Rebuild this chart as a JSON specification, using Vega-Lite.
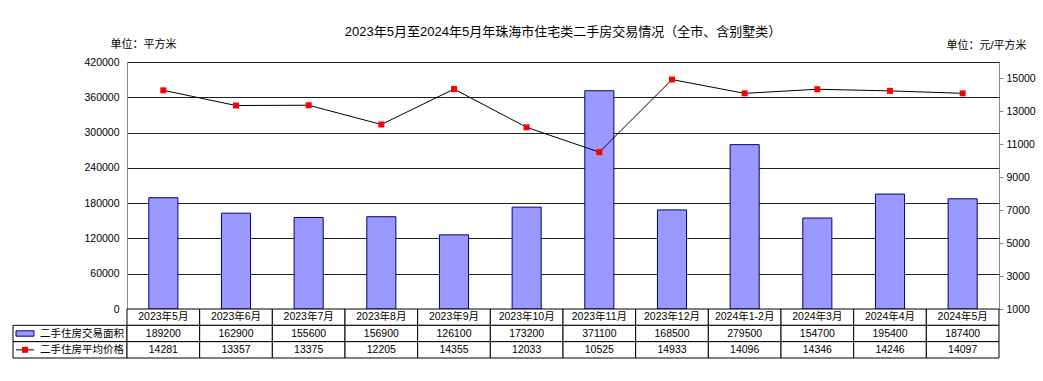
{
  "$schema": "https://vega.github.io/schema/vega-lite/v6.json",
  "padding": {"left": 12, "top": 25, "right": 5, "bottom": 5},
  "background": "white",
  "config": {
    "view": {"stroke": null},
    "font": "Liberation Sans, Noto Sans CJK SC",
    "axis": {"labelFont": "Liberation Sans, Noto Sans CJK SC", "titleFont": "Liberation Sans, Noto Sans CJK SC", "labelColor": "#000", "titleColor": "#000"},
    "title": {"font": "Liberation Sans, Noto Sans CJK SC", "color": "#000"}
  },
  "datasets": {
    "d": [
      {"month": "2023年5月", "area": 189200, "price": 14281},
      {"month": "2023年6月", "area": 162900, "price": 13357},
      {"month": "2023年7月", "area": 155600, "price": 13375},
      {"month": "2023年8月", "area": 156900, "price": 12205},
      {"month": "2023年9月", "area": 126100, "price": 14355},
      {"month": "2023年10月", "area": 173200, "price": 12033},
      {"month": "2023年11月", "area": 371100, "price": 10525},
      {"month": "2023年12月", "area": 168500, "price": 14933},
      {"month": "2024年1-2月", "area": 279500, "price": 14096},
      {"month": "2024年3月", "area": 154700, "price": 14346},
      {"month": "2024年4月", "area": 195400, "price": 14246},
      {"month": "2024年5月", "area": 187400, "price": 14097}
    ]
  },
  "columns": 2,
  "spacing": 0,
  "bounds": "flush",
  "align": "each",
  "concat": [
    {
      "width": 114, "height": 247,
      "data": {"values": [{}]},
      "mark": {"type": "text"},
      "encoding": {"text": {"value": ""}}
    },
    {
      "width": 872, "height": 247,
      "view": {"stroke": "#888888"},
      "title": {"text": "2023年5月至2024年5月年珠海市住宅类二手房交易情况（全市、含别墅类）", "fontSize": 13, "fontWeight": "normal", "anchor": "middle", "offset": -1},
      "data": {"name": "d"},
      "encoding": {
        "x": {"field": "month", "type": "nominal", "sort": null, "scale": {"paddingInner": 0.6, "paddingOuter": 0.3}, "axis": null}
      },
      "layer": [
        {
          "mark": {"type": "bar", "fill": "#9999FF", "stroke": "#000080", "strokeWidth": 1},
          "encoding": {
            "y": {"field": "area", "type": "quantitative", "scale": {"domain": [0, 420000], "nice": false},
              "axis": {"values": [0, 60000, 120000, 180000, 240000, 300000, 360000, 420000], "format": "d", "grid": true, "gridColor": "#222", "gridOpacity": 1, "domainColor": "#888", "ticks": false, "labelPadding": 8, "labelFontSize": 10.5,
                "title": "单位：平方米", "titleAngle": 0, "titleX": 16, "titleY": -18, "titleAlign": "center", "titleBaseline": "middle", "titleFontWeight": "normal", "titleFontSize": 11}}
          }
        },
        {
          "encoding": {
            "y": {"field": "price", "type": "quantitative", "scale": {"domain": [1000, 16000], "nice": false, "zero": false},
              "axis": {"orient": "right", "values": [1000, 3000, 5000, 7000, 9000, 11000, 13000, 15000], "format": "d", "grid": false, "domain": false, "tickSize": 4, "tickColor": "#888", "labelPadding": 3, "labelFontSize": 10.5,
                "title": "单位：元/平方米", "titleAngle": 0, "titleX": -13, "titleY": -17, "titleAlign": "center", "titleBaseline": "middle", "titleFontWeight": "normal", "titleFontSize": 11}}
          },
          "layer": [
            {"mark": {"type": "line", "color": "#000", "strokeWidth": 1}},
            {"mark": {"type": "point", "shape": "square", "filled": true, "fill": "#FF0000", "size": 36, "opacity": 1, "strokeWidth": 0}}
          ]
        }
      ],
      "resolve": {"scale": {"y": "independent"}}
    },
    {
      "width": 114, "height": 49,
      "data": {"values": [{"row": "area", "label": "二手住房交易面积"}, {"row": "price", "label": "二手住房平均价格"}]},
      "encoding": {
        "y": {"field": "row", "type": "nominal", "scale": {"domain": ["month", "area", "price"], "paddingInner": 0, "paddingOuter": 0}, "axis": null}
      },
      "layer": [
        {"mark": {"type": "rect", "fill": "white", "stroke": "#000", "strokeWidth": 1}},
        {"mark": {"type": "text", "align": "right", "dx": 54, "fontSize": 10.5, "color": "#000"}, "encoding": {"text": {"field": "label", "type": "nominal"}}},
        {"transform": [{"filter": "datum.row === 'area'"}], "mark": {"type": "point", "shape": "M-1,-0.3H1V0.3H-1Z", "size": 324, "filled": true, "fill": "#9999FF", "stroke": "#000080", "strokeWidth": 1, "opacity": 1, "xOffset": -45}},
        {"transform": [{"filter": "datum.row === 'price'"}], "mark": {"type": "point", "shape": "M-1,0H1", "size": 324, "filled": false, "stroke": "#000", "strokeWidth": 1, "opacity": 1, "xOffset": -45}},
        {"transform": [{"filter": "datum.row === 'price'"}], "mark": {"type": "point", "shape": "square", "size": 36, "filled": true, "fill": "#FF0000", "strokeWidth": 0, "opacity": 1, "xOffset": -45}}
      ]
    },
    {
      "width": 872, "height": 49,
      "data": {"name": "d"},
      "transform": [{"fold": ["month", "area", "price"], "as": ["row", "value"]}],
      "encoding": {
        "x": {"field": "month", "type": "nominal", "sort": null, "scale": {"paddingInner": 0, "paddingOuter": 0}, "axis": null},
        "y": {"field": "row", "type": "nominal", "scale": {"domain": ["month", "area", "price"], "paddingInner": 0, "paddingOuter": 0}, "axis": null}
      },
      "layer": [
        {"mark": {"type": "rect", "fill": "white", "stroke": "#000", "strokeWidth": 1}},
        {"mark": {"type": "text", "fontSize": 10.5, "baseline": "middle", "color": "#000"}, "encoding": {"text": {"field": "value", "type": "nominal"}}}
      ]
    }
  ]
}
